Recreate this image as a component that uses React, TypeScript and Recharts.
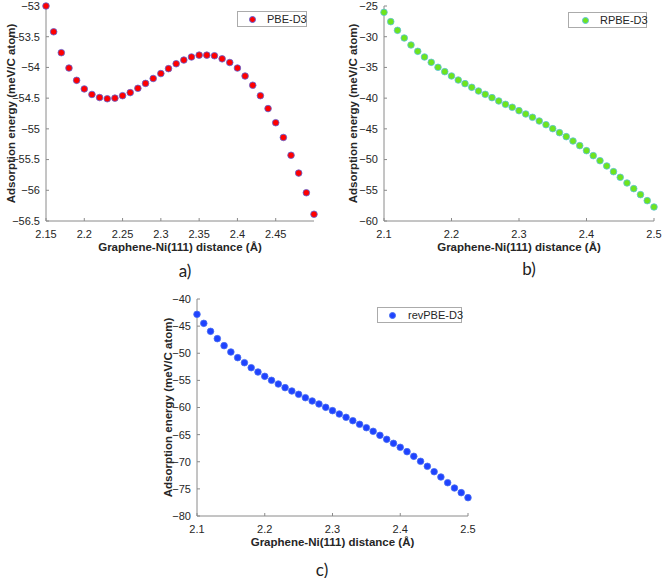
import { ScatterChart, Scatter, XAxis, YAxis, Legend, Label } from 'recharts'

// Graphene-Ni(111) distance, Å
const distA = [
  2.15, 2.16, 2.17, 2.18, 2.19, 2.2, 2.21, 2.22, 2.23, 2.24, 2.25, 2.26,
  2.27, 2.28, 2.29, 2.3, 2.31, 2.32, 2.33, 2.34, 2.35, 2.36, 2.37, 2.38,
  2.39, 2.4, 2.41, 2.42, 2.43, 2.44, 2.45, 2.46, 2.47, 2.48, 2.49, 2.5,
]
const distBC = [
  2.1, 2.11, 2.12, 2.13, 2.14, 2.15, 2.16, 2.17, 2.18, 2.19, 2.2, 2.21,
  2.22, 2.23, 2.24, 2.25, 2.26, 2.27, 2.28, 2.29, 2.3, 2.31, 2.32, 2.33,
  2.34, 2.35, 2.36, 2.37, 2.38, 2.39, 2.4, 2.41, 2.42, 2.43, 2.44, 2.45,
  2.46, 2.47, 2.48, 2.49, 2.5,
]

// adsorption energy, meV/C atom
const pbeD3 = [
  -53.0, -53.42, -53.76, -54.01, -54.21, -54.35, -54.44, -54.49, -54.51,
  -54.5, -54.46, -54.41, -54.34, -54.26, -54.18, -54.1, -54.02, -53.94,
  -53.88, -53.83, -53.8, -53.8, -53.81, -53.86, -53.92, -54.01, -54.14,
  -54.29, -54.46, -54.67, -54.9, -55.14, -55.43, -55.72, -56.04, -56.39,
]
const rpbeD3 = [
  -26.03, -27.55, -28.96, -30.21, -31.35, -32.38, -33.3, -34.17, -34.98,
  -35.69, -36.39, -37.05, -37.64, -38.24, -38.84, -39.38, -39.92, -40.46,
  -41.01, -41.49, -42.04, -42.58, -43.12, -43.72, -44.32, -44.97, -45.62,
  -46.27, -46.98, -47.73, -48.55, -49.36, -50.18, -51.04, -51.97, -52.89,
  -53.81, -54.73, -55.71, -56.69, -57.72,
]
const revPbeD3 = [
  -42.83, -44.49, -45.96, -47.31, -48.6, -49.77, -50.81, -51.74, -52.66,
  -53.46, -54.26, -54.99, -55.67, -56.34, -56.96, -57.57, -58.19, -58.8,
  -59.35, -59.97, -60.58, -61.2, -61.81, -62.43, -63.1, -63.72, -64.39,
  -65.13, -65.87, -66.61, -67.34, -68.14, -69.0, -69.92, -70.84, -71.83,
  -72.81, -73.86, -74.84, -75.7, -76.62,
]

const xTicksA = [2.15, 2.2, 2.25, 2.3, 2.35, 2.4, 2.45]
const xTicksBC = [2.1, 2.2, 2.3, 2.4, 2.5]
const yTicksA = [-56.5, -56, -55.5, -55, -54.5, -54, -53.5, -53]
const yTicksB = [-60, -55, -50, -45, -40, -35, -30, -25]
const yTicksC = [-80, -75, -70, -65, -60, -55, -50, -45, -40]

const X_LABEL = 'Graphene-Ni(111) distance (Å)'
const Y_LABEL = 'Adsorption energy (meV/C atom)'
const AXIS = '#8a8a8a'
const TEXT = '#262626'

// matlab prints a real minus sign
const fmtTick = (v) => String(v).replace('-', '\u2212')

function LegendBox({ name, fill, edge, dotX, textX }) {
  return (
    <div
      style={{
        position: 'relative',
        width: '100%',
        height: '100%',
        boxSizing: 'border-box',
        border: '1px solid #ababab',
        background: '#fff',
        fontSize: 11,
        color: TEXT,
        whiteSpace: 'nowrap',
      }}
    >
      <span
        style={{
          position: 'absolute',
          left: dotX - 4,
          top: '50%',
          width: 7,
          height: 7,
          marginTop: -3.5,
          boxSizing: 'border-box',
          border: `1px solid ${edge}`,
          borderRadius: '50%',
          background: fill,
        }}
      />
      <span style={{ position: 'absolute', left: textX, top: '50%', transform: 'translateY(-50%)', lineHeight: 1 }}>
        {name}
      </span>
    </div>
  )
}

function Panel({
  left, top, width, height, margin, yAxisWidth, xAxisHeight,
  xs, ys, xDomain, yDomain, xTicks, yTicks, name, fill, edge,
  yLabelOffset, legend,
}) {
  const data = xs.map((x, i) => ({ x, y: ys[i] }))
  return (
    <div style={{ position: 'absolute', left, top }}>
      <ScatterChart width={width} height={height} margin={margin}>
        <XAxis
          type="number"
          dataKey="x"
          domain={xDomain}
          ticks={xTicks}
          height={xAxisHeight}
          stroke={AXIS}
          tickSize={-3}
          tickMargin={12}
          tick={{ fill: TEXT, fontSize: 11 }}
        >
          <Label
            value={X_LABEL}
            position="insideTop"
            offset={22}
            style={{ fontWeight: 'bold', fontSize: 11.5, fill: TEXT }}
          />
        </XAxis>
        <YAxis
          type="number"
          dataKey="y"
          domain={yDomain}
          ticks={yTicks}
          width={yAxisWidth}
          stroke={AXIS}
          tickSize={-3}
          tickMargin={9}
          tickFormatter={fmtTick}
          tick={{ fill: TEXT, fontSize: 11 }}
        >
          <Label
            value={Y_LABEL}
            angle={-90}
            position="insideLeft"
            offset={yLabelOffset}
            style={{ fontWeight: 'bold', fontSize: 11.5, fill: TEXT, textAnchor: 'middle' }}
          />
        </YAxis>
        <Legend
          layout="vertical"
          align="center"
          verticalAlign="middle"
          wrapperStyle={{ left: legend.left, top: legend.top, width: legend.w, height: legend.h }}
          content={() => (
            <LegendBox name={name} fill={fill} edge={edge} dotX={legend.dotX} textX={legend.textX} />
          )}
        />
        <Scatter
          name={name}
          data={data}
          fill={fill}
          isAnimationActive={false}
          shape={(p) => <circle cx={p.cx} cy={p.cy} r={3.3} fill={fill} stroke={edge} strokeWidth={0.8} />}
        />
      </ScatterChart>
    </div>
  )
}

const letterStyle = {
  position: 'absolute',
  transform: 'translate(-50%, -50%)',
  fontFamily: 'Lato, "Open Sans", sans-serif',
  fontSize: 17,
  lineHeight: 1,
  color: '#222',
}

export default function App() {
  return (
    <div
      style={{
        position: 'absolute',
        left: 0,
        top: 0,
        width: 663,
        height: 578,
        overflow: 'hidden',
        background: '#fff',
        fontFamily: '"Liberation Sans", Arial, sans-serif',
      }}
    >
      <Panel
        left={0}
        top={0}
        width={330}
        height={280}
        margin={{ top: 6, right: 16, bottom: 0, left: 0 }}
        yAxisWidth={46}
        xAxisHeight={59}
        xs={distA}
        ys={pbeD3}
        xDomain={[2.15, 2.5]}
        yDomain={[-56.5, -53]}
        xTicks={xTicksA}
        yTicks={yTicksA}
        name="PBE-D3"
        fill="#ff0000"
        edge="#5a64d8"
        yLabelOffset={11}
        legend={{ left: 237, top: 11, w: 70, h: 16, dotX: 15, textX: 29 }}
      />
      <Panel
        left={330}
        top={0}
        width={333}
        height={280}
        margin={{ top: 6, right: 9, bottom: 0, left: 0 }}
        yAxisWidth={54}
        xAxisHeight={59}
        xs={distBC}
        ys={rpbeD3}
        xDomain={[2.1, 2.5]}
        yDomain={[-60, -25]}
        xTicks={xTicksBC}
        yTicks={yTicksB}
        name="RPBE-D3"
        fill="#6ee41e"
        edge="#5cc0e0"
        yLabelOffset={23}
        legend={{ left: 238, top: 12, w: 79, h: 16, dotX: 17, textX: 31 }}
      />
      <Panel
        left={160}
        top={293}
        width={340}
        height={285}
        margin={{ top: 6, right: 32, bottom: 0, left: 0 }}
        yAxisWidth={37}
        xAxisHeight={62}
        xs={distBC}
        ys={revPbeD3}
        xDomain={[2.1, 2.5]}
        yDomain={[-80, -40]}
        xTicks={xTicksBC}
        yTicks={yTicksC}
        name="revPBE-D3"
        fill="#1f43ff"
        edge="#4a70f0"
        yLabelOffset={8}
        legend={{ left: 217, top: 14, w: 85, h: 16, dotX: 15, textX: 30 }}
      />
      <div style={{ ...letterStyle, left: 185, top: 270 }}>a)</div>
      <div style={{ ...letterStyle, left: 529, top: 268 }}>b)</div>
      <div style={{ ...letterStyle, left: 322, top: 569 }}>c)</div>
    </div>
  )
}
